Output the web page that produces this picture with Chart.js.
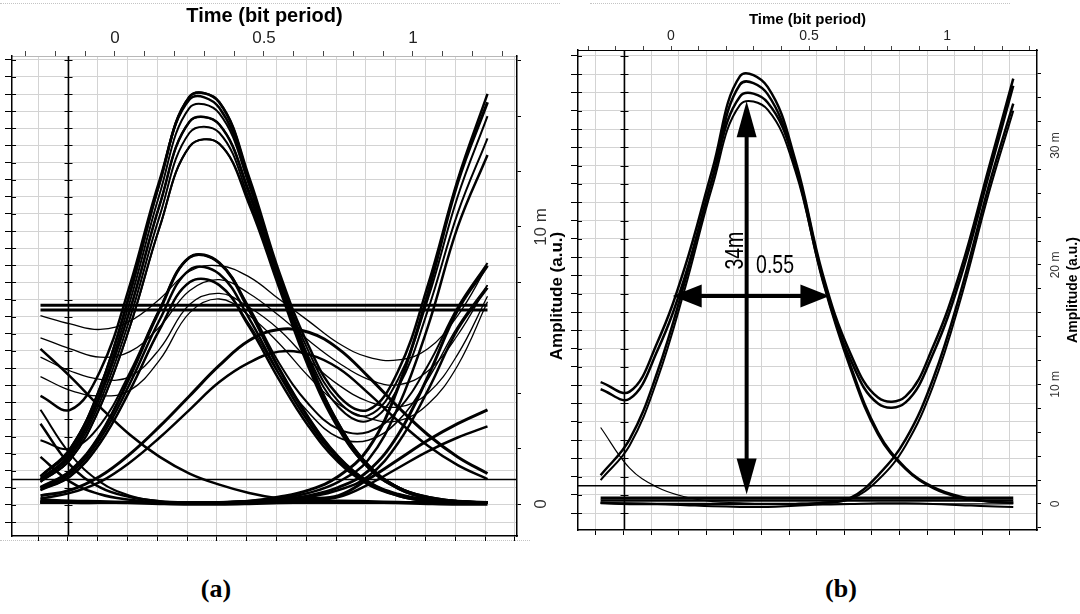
<!DOCTYPE html>
<html>
<head>
<meta charset="utf-8">
<script src="https://cdn.jsdelivr.net/npm/chart.js@4.4.1/dist/chart.umd.min.js"></script>
<style>
  body { margin: 0; background: #fff; width: 1080px; height: 614px; overflow: hidden; position: relative; font-family: Arial, "Liberation Sans", sans-serif; }
  #wrapA { position: absolute; left: 0; top: 0; width: 566px; height: 545px; }
  #wrapB { position: absolute; left: 566px; top: 0; width: 514px; height: 545px; }
  .cap { position: absolute; top: 574px; width: 60px; text-align: center; font: bold 26px "Liberation Serif", "Times New Roman", serif; }
  .dots { position: absolute; height: 0; border-top: 1px dotted #c4c4c4; }
</style>
</head>
<body>
<div class="dots" style="left:0;top:3px;width:560px"></div>
<div class="dots" style="left:0;top:540px;width:530px"></div>
<div class="dots" style="left:590px;top:3px;width:420px"></div>
<div id="wrapA"><canvas id="eyeA" width="566" height="545"></canvas></div>
<div id="wrapB"><canvas id="eyeB" width="514" height="545"></canvas></div>
<div class="cap" style="left:186px">(a)</div>
<div class="cap" style="left:811px">(b)</div>
<script>
// sample instants (bit periods) shared by all traces
const timeA = [-0.25, -0.15, -0.05, 0.05, 0.15, 0.25, 0.35, 0.45, 0.55, 0.65, 0.75, 0.85, 0.95, 1.05, 1.15, 1.25];
const timeB = [-0.255, -0.15, -0.05, 0.05, 0.15, 0.25, 0.35, 0.45, 0.55, 0.65, 0.75, 0.85, 0.95, 1.05, 1.15, 1.24];

// panel (a) amplitudes, in milli a.u.
const bigTopA     = [1.0, 2.0, 4.2, 7.6, 11.6, 14.7, 14.5, 11.7, 8.2, 5.2, 2.9, 1.4, 0.6, 0.25, 0.1, 0.05];
const bigTop2A    = [1.0, 1.9, 4.0, 7.3, 11.2, 14.3, 14.1, 11.5, 8.1, 5.15, 2.85, 1.4, 0.6, 0.23, 0.1, 0.05];
const bigMidA     = [0.9, 1.8, 3.9, 7.0, 10.8, 13.8, 13.7, 11.2, 8.0, 5.1, 2.8, 1.35, 0.6, 0.22, 0.1, 0.05];
const bigMid2A    = [0.85, 1.7, 3.7, 6.7, 10.4, 13.4, 13.4, 11.0, 7.9, 5.0, 2.75, 1.3, 0.55, 0.2, 0.1, 0.05];
const bigLowA     = [0.8, 1.6, 3.5, 6.4, 10.0, 12.9, 13.0, 10.8, 7.8, 4.9, 2.7, 1.3, 0.55, 0.2, 0.1, 0.05];
const bigPairA    = [1.0, 2.0, 4.2, 7.6, 11.6, 14.7, 14.5, 11.8, 8.4, 5.7, 3.9, 3.4, 4.8, 7.9, 11.7, 14.8];
const bigPairMidA = [0.9, 1.8, 3.9, 7.0, 10.8, 13.8, 13.7, 11.3, 8.2, 5.5, 3.7, 3.2, 4.5, 7.4, 11.1, 14.0];
const bigPairLowA = [0.8, 1.6, 3.5, 6.4, 10.0, 12.9, 13.0, 10.9, 8.0, 5.3, 3.5, 3.0, 4.2, 7.0, 10.5, 13.2];
const bigFromA    = [3.9, 3.4, 4.8, 7.9, 11.7, 14.6, 14.3, 11.6, 8.2, 5.2, 2.9, 1.4, 0.6, 0.25, 0.1, 0.05];
const bigRiseA    = [0.1, 0.05, 0.05, 0.05, 0.05, 0.05, 0.05, 0.1, 0.25, 0.5, 1.0, 2.0, 4.2, 7.6, 11.6, 14.5];
const bigRiseLowA = [0.1, 0.05, 0.05, 0.05, 0.05, 0.05, 0.05, 0.1, 0.2, 0.4, 0.8, 1.6, 3.5, 6.4, 10.0, 12.6];
const bigTailA    = [2.9, 1.4, 0.6, 0.25, 0.1, 0.05, 0.05, 0.05, 0.05, 0.05, 0.05, 0.05, 0.05, 0.05, 0.05, 0.05];
const bigTailHighA = [3.4, 1.8, 0.8, 0.3, 0.1, 0.05, 0.05, 0.05, 0.05, 0.05, 0.05, 0.05, 0.05, 0.05, 0.05, 0.05];
const medTopA     = [0.6, 1.2, 2.5, 4.6, 7.0, 8.9, 8.7, 7.0, 4.9, 3.1, 1.7, 0.8, 0.35, 0.15, 0.1, 0.05];
const medMidA     = [0.55, 1.1, 2.35, 4.35, 6.65, 8.45, 8.3, 6.7, 4.7, 2.95, 1.6, 0.75, 0.3, 0.12, 0.07, 0.05];
const medLowA     = [0.5, 1.0, 2.2, 4.1, 6.3, 8.0, 7.9, 6.4, 4.5, 2.8, 1.5, 0.7, 0.3, 0.1, 0.05, 0.05];
const medPairA    = [0.6, 1.2, 2.5, 4.6, 7.0, 8.9, 8.7, 7.1, 5.1, 3.6, 2.7, 2.6, 3.4, 5.0, 7.1, 8.7];
const medPairLowA = [0.5, 1.0, 2.2, 4.1, 6.3, 8.0, 7.9, 6.5, 4.7, 3.3, 2.4, 2.3, 3.0, 4.5, 6.4, 7.9];
const medFromA    = [2.3, 2.0, 2.85, 4.75, 7.05, 8.9, 8.7, 7.0, 4.9, 3.1, 1.7, 0.8, 0.35, 0.15, 0.1, 0.05];
const medRiseA    = [0.05, 0.05, 0.05, 0.05, 0.05, 0.05, 0.05, 0.05, 0.15, 0.3, 0.6, 1.2, 2.5, 4.6, 7.0, 8.6];
const medRiseLowA = [0.05, 0.05, 0.05, 0.05, 0.05, 0.05, 0.05, 0.05, 0.1, 0.25, 0.5, 1.0, 2.2, 4.1, 6.3, 7.8];
const medTailA    = [1.7, 0.8, 0.35, 0.15, 0.05, 0.05, 0.05, 0.05, 0.05, 0.05, 0.05, 0.05, 0.05, 0.05, 0.05, 0.05];
const humpTopA    = [0.3, 0.5, 1.0, 1.8, 2.8, 3.9, 5.0, 5.9, 6.3, 6.2, 5.6, 4.6, 3.5, 2.5, 1.7, 1.1];
const humpLowA    = [0.2, 0.4, 0.8, 1.5, 2.4, 3.4, 4.4, 5.1, 5.5, 5.4, 4.9, 4.0, 3.0, 2.1, 1.4, 0.9];
const humpPrevA   = [5.6, 4.6, 3.5, 2.5, 1.7, 1.1, 0.7, 0.4, 0.2, 0.1, 0.05, 0.05, 0.05, 0.05, 0.05, 0.05];
const humpNextA   = [0.05, 0.05, 0.05, 0.05, 0.05, 0.05, 0.05, 0.1, 0.15, 0.2, 0.3, 0.9, 1.6, 2.3, 2.9, 3.4];
const humpNextLowA = [0.05, 0.05, 0.05, 0.05, 0.05, 0.05, 0.05, 0.1, 0.1, 0.15, 0.25, 0.7, 1.3, 1.9, 2.4, 2.8];
const waveTopA    = [6.8, 6.5, 6.3, 6.6, 7.4, 8.4, 8.6, 8.2, 7.4, 6.6, 5.8, 5.3, 5.2, 5.6, 6.8, 8.6];
const waveMidA    = [6.0, 5.6, 5.3, 5.5, 6.4, 7.7, 8.1, 7.6, 6.8, 5.9, 5.1, 4.5, 4.3, 4.8, 6.1, 7.9];
const waveLowA    = [5.3, 4.8, 4.5, 4.6, 5.6, 7.2, 7.6, 7.1, 6.3, 5.2, 4.3, 3.7, 3.5, 4.0, 5.4, 7.5];
const waveLow2A   = [4.6, 4.1, 3.9, 4.1, 5.2, 6.9, 7.4, 6.8, 5.8, 4.6, 3.6, 3.1, 3.0, 3.6, 5.0, 7.3];
const zeroA       = [0.15, 0.1, 0.08, 0.05, 0.02, 0.0, 0.0, 0.02, 0.05, 0.08, 0.1, 0.08, 0.05, 0.02, 0.0, 0.0];
const levelTimesA = [-0.25, 1.25];
const levelHighA  = [7.17, 7.17];
const levelLowA   = [7.0, 7.0];
const thresholdTimesA = [-0.36, 1.36];
const thresholdA  = [0.88, 0.88];

// panel (b) amplitudes, in milli a.u.
const upperTopB = [10.2, 9.4, 13.5, 19.8, 28.0, 35.8, 34.9, 28.8, 19.2, 12.6, 8.9, 9.0, 13.2, 19.6, 28.0, 35.6];
const upperLowB = [9.6, 8.8, 12.8, 19.0, 27.3, 35.1, 34.3, 28.3, 18.8, 12.1, 8.4, 8.5, 12.6, 19.0, 27.4, 35.0];
const lowerTopB = [2.4, 5.4, 11.0, 18.6, 27.2, 34.1, 33.6, 28.4, 18.9, 11.6, 6.0, 3.0, 1.4, 0.6, 0.2, 0.1];
const lowerLowB = [2.0, 4.9, 10.4, 18.0, 26.6, 33.4, 33.0, 27.9, 18.6, 11.3, 5.8, 2.9, 1.3, 0.5, 0.2, 0.1];
const riseTopB  = [0.1, 0.0, 0.0, 0.0, 0.0, 0.0, 0.0, 0.0, 0.1, 0.5, 2.4, 5.4, 10.5, 17.8, 26.5, 33.5];
const riseLowB  = [0.1, 0.0, 0.0, 0.0, 0.0, 0.0, 0.0, 0.0, 0.1, 0.4, 2.0, 4.9, 9.9, 17.2, 25.9, 32.9];
const tailB     = [6.4, 3.0, 1.4, 0.6, 0.2, 0.1, 0.0, 0.0, 0.0, 0.0, 0.0, 0.0, 0.0, 0.0, 0.0, 0.0];
const zeroDipB  = [0.05, 0.05, 0.0, -0.1, -0.2, -0.25, -0.25, -0.15, -0.05, 0.0, 0.05, 0.05, 0.0, -0.1, -0.2, -0.25];
const zeroTimesB = [-0.255, 1.24];
const zeroHighB  = [0.5, 0.5];
const zeroMidB   = [0.28, 0.28];
const thresholdTimesB = [-0.35, 1.35];
const thresholdB = [1.53, 1.53];

// eye opening marks in (b): [time, from, to] and [level, from, to]
const eyeHeightMark = [0.274, 0.8, 33.7];
const eyeWidthMark  = [17.4, 0.006, 0.574];
const eyeLabels = ['34m', '0.55'];

const gridColor = '#d3d3d3';

function trace(times, values, width) {
  return {
    data: times.map((t, i) => ({ x: t, y: values[i] })),
    borderColor: '#000',
    borderWidth: width,
    pointRadius: 0,
    tension: 0.4,
    fill: false
  };
}

// ticks at start + k*step inside the axis range
function stepTicks(start, step) {
  return scale => {
    const ticks = [];
    let k = Math.ceil((scale.min - start) / step - 1e-9);
    for (; start + k * step <= scale.max + 1e-9; k++) {
      ticks.push({ value: Math.round((start + k * step) * 1e6) / 1e6 });
    }
    scale.ticks = ticks;
  };
}

function fixed(w, h) {
  return s => {
    if (w !== null) s.width = w;
    if (h !== null) s.height = h;
    s.paddingTop = s.paddingBottom = s.paddingLeft = s.paddingRight = 0;
  };
}

const sideTitle = {
  id: 'sideTitle',
  afterDraw(chart, args, opts) {
    const s = chart.scales.y;
    const c = chart.ctx;
    c.save();
    c.translate(s.left + opts.offset, (s.top + s.bottom) / 2);
    c.rotate(-Math.PI / 2);
    c.font = opts.fontSpec;
    c.fillStyle = '#000';
    c.textAlign = 'center';
    c.textBaseline = 'middle';
    c.fillText(opts.text, 0, 0);
    c.restore();
  }
};

// second vertical rule and the small inner ticks of the left axis
const innerRule = {
  id: 'innerRule',
  beforeDatasetsDraw(chart, args, opts) {
    const { ctx: c, chartArea: a, scales: { xg, yL } } = chart;
    const rx = Math.round(xg.getPixelForValue(opts.at)) + 0.5;
    c.save();
    c.strokeStyle = '#000';
    c.lineWidth = 1.5;
    c.beginPath();
    c.moveTo(rx, a.top);
    c.lineTo(rx, a.bottom);
    c.stroke();
    c.lineWidth = 1;
    c.beginPath();
    yL.ticks.forEach(t => {
      const py = Math.round(yL.getPixelForValue(t.value)) + 0.5;
      c.moveTo(rx - 4, py); c.lineTo(rx + 4, py);
      c.moveTo(a.left, py); c.lineTo(a.left + 4, py);
    });
    c.stroke();
    c.restore();
  }
};

function doubleArrow(c, x1, y1, x2, y2, headLen, headHalf) {
  const len = Math.hypot(x2 - x1, y2 - y1);
  c.save();
  c.translate(x1, y1);
  c.rotate(Math.atan2(y2 - y1, x2 - x1));
  c.strokeStyle = '#000';
  c.fillStyle = '#000';
  c.lineWidth = 4;
  c.beginPath();
  c.moveTo(headLen - 2, 0);
  c.lineTo(len - headLen + 2, 0);
  c.stroke();
  c.beginPath();
  c.moveTo(0, 0); c.lineTo(headLen, -headHalf); c.lineTo(headLen, headHalf);
  c.closePath(); c.fill();
  c.beginPath();
  c.moveTo(len, 0); c.lineTo(len - headLen, -headHalf); c.lineTo(len - headLen, headHalf);
  c.closePath(); c.fill();
  c.restore();
}

function narrowText(c, text, x, y, rot) {
  c.save();
  c.translate(x, y);
  c.rotate(rot);
  c.scale(0.78, 1);
  c.font = '25px Arial, "Liberation Sans", sans-serif';
  c.fillStyle = '#000';
  c.textAlign = 'center';
  c.textBaseline = 'middle';
  c.fillText(text, 0, 0);
  c.restore();
}

const eyeMarks = {
  id: 'eyeMarks',
  afterDatasetsDraw(chart) {
    const { ctx, scales: { x, y } } = chart;
    const hx = x.getPixelForValue(eyeHeightMark[0]);
    doubleArrow(ctx, hx, y.getPixelForValue(eyeHeightMark[2]), hx, y.getPixelForValue(eyeHeightMark[1]), 36, 10);
    const wy = y.getPixelForValue(eyeWidthMark[0]);
    doubleArrow(ctx, x.getPixelForValue(eyeWidthMark[1]), wy, x.getPixelForValue(eyeWidthMark[2]), wy, 29, 11.5);
    narrowText(ctx, eyeLabels[0], x.getPixelForValue(0.2355), y.getPixelForValue(21.2), -Math.PI / 2);
    narrowText(ctx, eyeLabels[1], x.getPixelForValue(0.377), y.getPixelForValue(19.9), 0);
  }
};

function eyeOptions(p) {
  return {
    responsive: false,
    animation: false,
    events: [],
    layout: { padding: 0 },
    plugins: {
      legend: { display: false },
      tooltip: { enabled: false },
      sideTitle: { text: 'Amplitude (a.u.)', fontSpec: p.titleFont, offset: p.titleOffset },
      innerRule: { at: p.darkX }
    },
    scales: {
      x: {
        type: 'linear', position: 'top', bounds: 'data', min: p.xMin, max: p.xMax,
        afterBuildTicks: stepTicks(0, 0.1),
        afterFit: fixed(null, p.top),
        ticks: {
          autoSkip: false, minRotation: 0, maxRotation: 0, padding: p.xPad, color: '#222',
          font: { size: p.xFont, family: 'Arial' },
          callback: v => ([0, 0.5, 1].includes(v) ? String(v) : '')
        },
        grid: { drawOnChartArea: false, tickLength: p.xTick, color: '#444' },
        border: { color: p.topBorder },
        title: {
          display: true, text: 'Time (bit period)', color: '#000',
          font: { size: p.titleSize, weight: 'bold', family: 'Arial' },
          padding: { top: p.titlePad, bottom: 0 }
        }
      },
      xg: {
        type: 'linear', position: 'bottom', bounds: 'data', min: p.xMin, max: p.xMax,
        afterBuildTicks: stepTicks(p.darkX, 0.1),
        afterFit: fixed(null, p.bottom),
        ticks: { display: false },
        grid: { tickLength: 5, tickColor: '#000', color: gridColor },
        border: { color: '#000', width: 1.5 }
      },
      y: {
        type: 'linear', position: 'right', bounds: 'data', min: p.yMin, max: p.yMax,
        afterBuildTicks: stepTicks(0, 2),
        afterFit: fixed(p.right, null),
        ticks: {
          autoSkip: false, minRotation: 90, maxRotation: 90, crossAlign: 'center',
          padding: 1, color: '#333', font: { size: p.yFont, family: 'Arial' },
          callback: v => (v === 0 ? '0' : v % 10 === 0 ? v + ' m' : '')
        },
        grid: { drawOnChartArea: false, tickLength: 4, color: '#000' },
        border: { color: '#000', width: 1.5 }
      },
      yL: {
        type: 'linear', position: 'left', bounds: 'data', min: p.yMin, max: p.yMax,
        afterBuildTicks: stepTicks(p.gridY, p.gridStepY),
        afterFit: fixed(12, null),
        ticks: { display: false },
        grid: { color: gridColor, tickLength: 7, tickColor: '#000' },
        border: { color: '#000', width: 1.5 }
      }
    }
  };
}

new Chart(document.getElementById('eyeA'), {
  type: 'line',
  data: {
    datasets: [
      trace(timeA, bigTopA, 2.5), trace(timeA, bigTop2A, 2), trace(timeA, bigMidA, 2.5),
      trace(timeA, bigMid2A, 2), trace(timeA, bigLowA, 2),
      trace(timeA, bigPairA, 2.5), trace(timeA, bigPairMidA, 2), trace(timeA, bigPairLowA, 2),
      trace(timeA, bigFromA, 2.5),
      trace(timeA, bigRiseA, 3), trace(timeA, bigRiseLowA, 2.5),
      trace(timeA, bigTailA, 2.5), trace(timeA, bigTailHighA, 2),
      trace(timeA, medTopA, 3), trace(timeA, medMidA, 2.5), trace(timeA, medLowA, 2.5),
      trace(timeA, medPairA, 2), trace(timeA, medPairLowA, 1.5), trace(timeA, medFromA, 2),
      trace(timeA, medRiseA, 3), trace(timeA, medRiseLowA, 2.5), trace(timeA, medTailA, 2.5),
      trace(timeA, humpTopA, 3), trace(timeA, humpLowA, 2.5), trace(timeA, humpPrevA, 2.5),
      trace(timeA, humpNextA, 3), trace(timeA, humpNextLowA, 2.5),
      trace(timeA, waveTopA, 1.3), trace(timeA, waveMidA, 1.3), trace(timeA, waveLowA, 1.3),
      trace(timeA, waveLow2A, 1.3),
      trace(timeA, zeroA, 3.5),
      trace(levelTimesA, levelHighA, 3), trace(levelTimesA, levelLowA, 3),
      trace(thresholdTimesA, thresholdA, 1.5)
    ]
  },
  options: eyeOptions({
    xMin: -0.3456, xMax: 1.349, yMin: -1.155, yMax: 16.17,
    top: 56, bottom: 9, right: 49,
    xFont: 17, xPad: 2, xTick: 5, topBorder: '#b8b8b8',
    titleSize: 20, titlePad: 4.5,
    darkX: -0.158, gridY: -0.036, gridStepY: 0.618,
    yFont: 17, titleFont: 'bold 17px Arial, "Liberation Sans", sans-serif', titleOffset: 40
  }),
  plugins: [sideTitle, innerRule]
});

new Chart(document.getElementById('eyeB'), {
  type: 'line',
  data: {
    datasets: [
      trace(timeB, upperTopB, 2.5), trace(timeB, upperLowB, 2.5),
      trace(timeB, lowerTopB, 2.5), trace(timeB, lowerLowB, 2),
      trace(timeB, riseTopB, 2.5), trace(timeB, riseLowB, 2),
      trace(timeB, tailB, 1.2),
      trace(zeroTimesB, zeroHighB, 3), trace(zeroTimesB, zeroMidB, 2.5),
      trace(timeB, zeroDipB, 2),
      trace(thresholdTimesB, thresholdB, 1.5)
    ]
  },
  options: eyeOptions({
    xMin: -0.337, xMax: 1.326, yMin: -2.18, yMax: 37.99,
    top: 50, bottom: 15, right: 43,
    xFont: 14, xPad: 1, xTick: 4, topBorder: '#000',
    titleSize: 15, titlePad: 11,
    darkX: -0.172, gridY: -0.778, gridStepY: 1.531,
    yFont: 12, titleFont: 'bold 14px Arial, "Liberation Sans", sans-serif', titleOffset: 36
  }),
  plugins: [sideTitle, innerRule, eyeMarks]
});
</script>
</body>
</html>
